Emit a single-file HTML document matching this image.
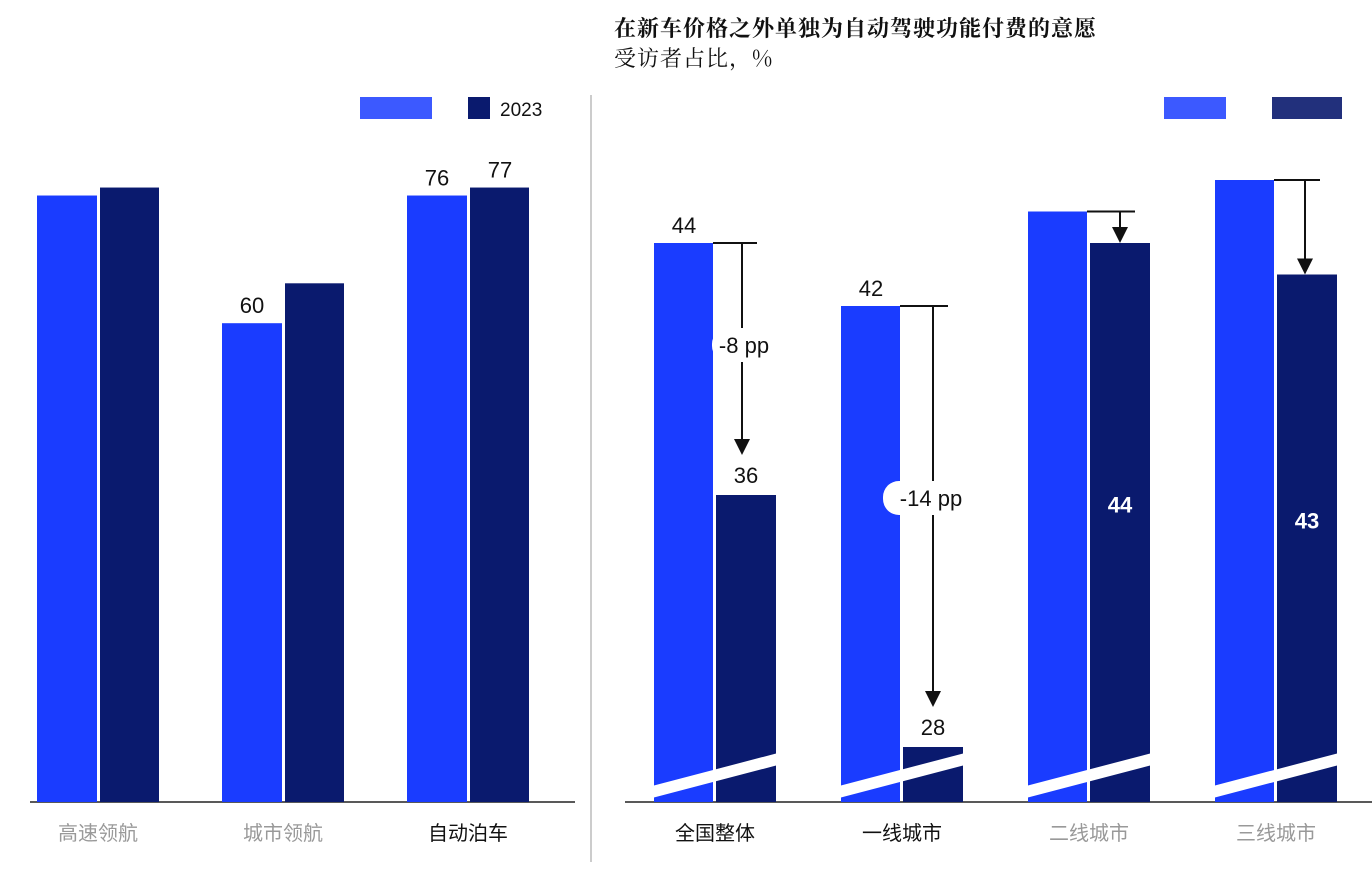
<!DOCTYPE html>
<html><head><meta charset="utf-8"><style>
body{margin:0;background:#fff;}
svg text{font-family:"Liberation Sans","Noto Sans CJK SC",sans-serif;}
</style></head><body>
<svg id="c" width="1372" height="888" viewBox="0 0 1372 888" xmlns="http://www.w3.org/2000/svg">
<text x="614" y="36" font-size="22" fill="#111" font-weight="bold" style="font-family:'Noto Serif CJK SC','Noto Sans CJK SC',serif;letter-spacing:1px">在新车价格之外单独为自动驾驶功能付费的意愿</text>
<text x="614" y="66" font-size="22" fill="#111" style="font-family:'Noto Serif CJK SC','Noto Sans CJK SC',serif;letter-spacing:1px">受访者占比，%</text>
<line x1="591" y1="95" x2="591" y2="862" stroke="#bbb" stroke-width="1.5"/>
<g id="left"></g><g id="right"></g>
</svg>
<script>
const leftCats=["高速领航","城市领航","自动泊车"];
const left2022=[76,60,76];
const left2023=[77,65,77];
const leftShown2022=[null,"60","76"];
const leftShown2023=[null,null,"77"];
const rightCats=["全国整体","一线城市","二线城市","三线城市"];
const right2022=[44,42,45,46];
const right2023=[36,28,44,43];
const rightShown2022=["44","42",null,null];
const rightChangeLabels=["-8 pp","-14 pp",null,null];
const NS="http://www.w3.org/2000/svg";
const BLUE="#1a3cff",NAVY="#0a1a6e",BASE=802;
function mk(p,tag,a){const e=document.createElementNS(NS,tag);for(const k in a)e.setAttribute(k,a[k]);p.appendChild(e);return e;}
const L=document.getElementById('left'),R=document.getElementById('right');
// left axis
const yL=v=>BASE-v*7.98;
const axL=mk(L,'line',{x1:30,y1:BASE,x2:575,y2:BASE,stroke:'#222','stroke-width':1.5});


// left legend
let lg=mk(L,'rect',{x:360,y:97,width:72,height:22,fill:BLUE,opacity:0.85});


lg=mk(L,'rect',{x:468,y:97,width:22,height:22,fill:NAVY});


let t=mk(L,'text',{x:500,y:116,'font-size':19,fill:'#111'});t.textContent='2023';


leftCats.forEach((c,i)=>{
  const x0=37+i*185;
  let b=mk(L,'rect',{x:x0,y:yL(left2022[i]),width:60,height:BASE-yL(left2022[i]),fill:BLUE});
  
  
  b=mk(L,'rect',{x:x0+63,y:yL(left2023[i]),width:59,height:BASE-yL(left2023[i]),fill:NAVY});
  
  
  if(leftShown2022[i]){let v=mk(L,'text',{x:x0+30,y:yL(left2022[i])-10,'font-size':22,'text-anchor':'middle',fill:'#111'});v.textContent=left2022[i];
    
    }
  if(leftShown2023[i]){let v=mk(L,'text',{x:x0+93,y:yL(left2023[i])-10,'font-size':22,'text-anchor':'middle',fill:'#111'});v.textContent=left2023[i];
    
    }
  let l=mk(L,'text',{x:x0+61,y:840,'font-size':20,'text-anchor':'middle',fill:i<2?'#999':'#111'});l.textContent=c;
  
  
});
// right
const yR=v=>243+(44-v)*31.5;
const axR=mk(R,'line',{x1:625,y1:BASE,x2:1372,y2:BASE,stroke:'#222','stroke-width':1.5});


lg=mk(R,'rect',{x:1164,y:97,width:62,height:22,fill:BLUE,opacity:0.85});


lg=mk(R,'rect',{x:1272,y:97,width:70,height:22,fill:NAVY,opacity:0.9});


rightCats.forEach((c,i)=>{
  const x0=654+i*187;
  const y1=yR(right2022[i]),y2=yR(right2023[i]);
  let b=mk(R,'rect',{x:x0,y:y1,width:59,height:BASE-y1,fill:BLUE});
  
  
  b=mk(R,'rect',{x:x0+62,y:y2,width:60,height:BASE-y2,fill:NAVY});
  
  
  let br=mk(R,'polygon',{points:`${x0-2},${786} ${x0+124},${753} ${x0+124},${765} ${x0-2},${798}`,fill:'#fff'});
  
  
  if(rightShown2022[i]){let v=mk(R,'text',{x:x0+30,y:y1-10,'font-size':22,'text-anchor':'middle',fill:'#111'});v.textContent=right2022[i];
    
    }
  let v;
  if(i<2){v=mk(R,'text',{x:x0+92,y:y2-12,'font-size':22,'text-anchor':'middle',fill:'#111'});}
  else{v=mk(R,'text',{x:x0+92,y:y2+(BASE-y2)/2-10,'font-size':22,'font-weight':'bold','text-anchor':'middle',fill:'#fff'});}
  v.textContent=right2023[i];
  
  
  // arrow
  const ax=x0+(i<2?88:84)+ (i==1?-9:0)+(i==3?-2:0);
  const arrowX = i===0?742:(i===1?933:(i===2?1120:1305));
  let h=mk(R,'line',{x1:x0+59,y1:y1,x2:arrowX+15,y2:y1,stroke:'#111','stroke-width':2});
  
  
  const tip=i<2?y2-40:y2;
  let a=mk(R,'line',{x1:arrowX,y1:y1,x2:arrowX,y2:tip-12,stroke:'#111','stroke-width':2});
  
  
  let ah=mk(R,'polygon',{points:`${arrowX-8},${tip-16} ${arrowX+8},${tip-16} ${arrowX},${tip}`,fill:'#111'});
  
  
  if(rightChangeLabels[i]){
    const my=i===0?345:498;
    let bub=mk(R,'rect',{x:arrowX-(i===0?30:50),y:my-17,width:i===0?62:96,height:34,rx:16,fill:'#fff'});
    
    
    let ct=mk(R,'text',{x:arrowX+(i===0?2:-2),y:my+8,'font-size':22,'text-anchor':'middle',fill:'#111'});ct.textContent=rightChangeLabels[i];
    
    
  }
  let l=mk(R,'text',{x:x0+61,y:840,'font-size':20,'text-anchor':'middle',fill:i<2?'#111':'#999'});l.textContent=c;
  
  
});
</script>
</body></html>
